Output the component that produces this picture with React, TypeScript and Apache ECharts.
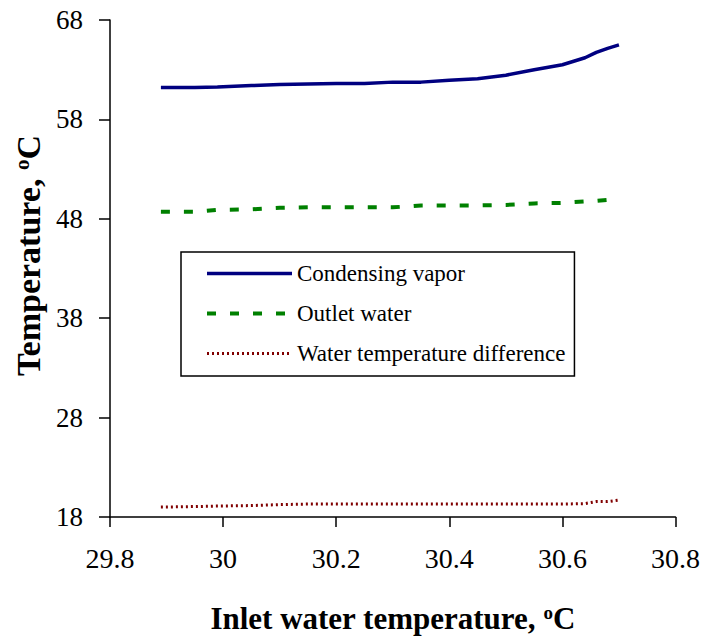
import React, { useEffect, useRef } from "react";
import * as echarts from "echarts";

const inletTemp = [29.89, 29.95, 29.99, 30.05, 30.1, 30.15, 30.2, 30.25, 30.3, 30.35, 30.4, 30.45, 30.5, 30.55, 30.6, 30.64, 30.66, 30.68, 30.7];
const condensingVapor = [61.2, 61.2, 61.25, 61.4, 61.5, 61.55, 61.6, 61.6, 61.75, 61.75, 61.95, 62.1, 62.45, 63.0, 63.5, 64.2, 64.75, 65.15, 65.5];
const outletWater = [48.7, 48.7, 48.9, 48.95, 49.1, 49.15, 49.15, 49.15, 49.15, 49.35, 49.35, 49.35, 49.4, 49.55, 49.6, 49.75, 49.8, 49.9, 50.05];
const waterTempDiff = [19.0, 19.05, 19.1, 19.15, 19.25, 19.3, 19.3, 19.3, 19.3, 19.3, 19.3, 19.3, 19.3, 19.3, 19.3, 19.35, 19.55, 19.55, 19.7];

const seriesNames = ["Condensing vapor", "Outlet water", "Water temperature difference"];
const xTicks = [29.8, 30, 30.2, 30.4, 30.6, 30.8];
const yTicks = [18, 28, 38, 48, 58, 68];

const FONT = "Liberation Serif, Times New Roman, serif";

const lineStyles = [
  { color: "#000080", width: 3.5, type: "solid" as any },
  { color: "#008000", width: 4, type: [9, 14] as any },
  { color: "#800000", width: 3, type: [2, 3] as any },
];

export default function App() {
  const ref = useRef<HTMLDivElement>(null);
  useEffect(() => {
    if (!ref.current) return;
    const chart = echarts.init(ref.current, undefined, { renderer: "svg" });
    const pair = (ys: number[]) => inletTemp.map((x, i) => [x, ys[i]]);
    const supStyle = (size: number) => ({
      sup: { fontSize: size, fontWeight: "bold", verticalAlign: "top", fontFamily: FONT, color: "#000", padding: [0, 0, 12, 0] },
    });
    chart.setOption({
      animation: false,
      backgroundColor: "#ffffff",
      textStyle: { fontFamily: FONT, color: "#000" },
      grid: { left: 110, right: 27, top: 20, bottom: 123 },
      legend: {
        orient: "vertical",
        left: 181,
        top: 252,
        data: seriesNames.map((n, i) => ({ name: n, lineStyle: lineStyles[i] })),
        itemWidth: 85,
        itemHeight: 14,
        itemGap: 17,
        padding: [10, 9, 11, 24],
        borderColor: "#000",
        borderWidth: 1.5,
        itemStyle: { opacity: 0 },
        textStyle: { fontFamily: FONT, fontSize: 23, color: "#000" },
      },
      xAxis: {
        type: "value",
        min: xTicks[0],
        max: xTicks[xTicks.length - 1],
        interval: 0.2,
        name: "Inlet water temperature, {sup|o}C",
        nameLocation: "middle",
        nameGap: 86,
        nameTextStyle: {
          fontFamily: FONT,
          fontSize: 31,
          fontWeight: "bold",
          color: "#000",
          rich: supStyle(19),
        },
        axisLine: { lineStyle: { color: "#000", width: 1.5 } },
        axisTick: { show: true, length: 10, lineStyle: { color: "#000", width: 1.5 }, customValues: xTicks },
        axisLabel: {
          margin: 27,
          fontSize: 28,
          fontFamily: FONT,
          color: "#000",
          customValues: xTicks,
          formatter: (v: number) => String(parseFloat(Number(v).toFixed(1))),
        },
        splitLine: { show: false },
      },
      yAxis: {
        type: "value",
        min: yTicks[0],
        max: yTicks[yTicks.length - 1],
        name: "Temperature, {sup|o}C",
        nameLocation: "middle",
        nameGap: 64,
        nameTextStyle: {
          fontFamily: FONT,
          fontSize: 34,
          fontWeight: "bold",
          color: "#000",
          padding: [0, 0, 0, 26],
          rich: supStyle(21),
        },
        axisLine: { show: true, lineStyle: { color: "#000", width: 1.5 } },
        axisTick: { show: true, length: 11, lineStyle: { color: "#000", width: 1.5 }, customValues: yTicks },
        axisLabel: { margin: 27, fontSize: 27, fontFamily: FONT, color: "#000", customValues: yTicks },
        splitLine: { show: false },
      },
      series: [
        {
          name: seriesNames[0],
          type: "line",
          data: pair(condensingVapor),
          symbol: "none",
          color: "#000080",
          lineStyle: lineStyles[0],
        },
        {
          name: seriesNames[1],
          type: "line",
          data: pair(outletWater),
          symbol: "none",
          color: "#008000",
          lineStyle: lineStyles[1],
        },
        {
          name: seriesNames[2],
          type: "line",
          data: pair(waterTempDiff),
          symbol: "none",
          color: "#800000",
          lineStyle: lineStyles[2],
        },
      ],
    });
    return () => chart.dispose();
  }, []);
  return <div ref={ref} style={{ position: "absolute", left: 0, top: 0, width: 703, height: 640 }} />;
}
